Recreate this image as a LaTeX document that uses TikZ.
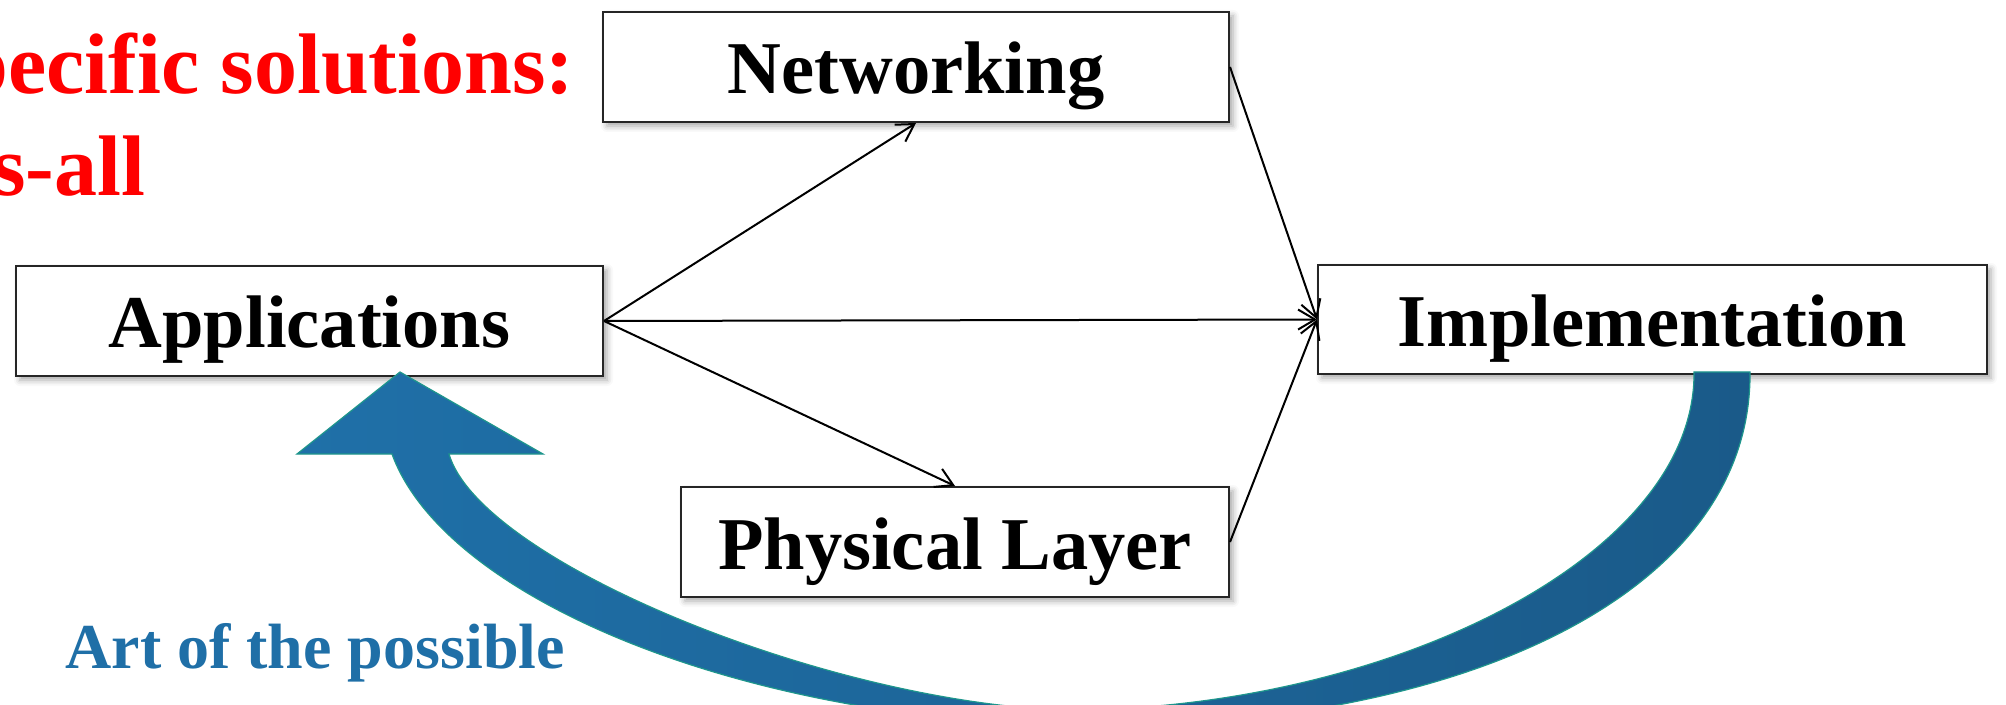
\documentclass[tikz,border=0pt]{standalone}
\usepackage{fontspec}
\setmainfont{Liberation Serif}
\usetikzlibrary{arrows.meta,shadows.blur}
\definecolor{redtxt}{RGB}{255,0,0}
\definecolor{bluetxt}{RGB}{31,111,167}
\definecolor{arrL}{RGB}{31,112,168}
\definecolor{arrR}{RGB}{26,90,137}
\definecolor{arrEdge}{RGB}{30,150,140}
\begin{document}
\begin{tikzpicture}[x=0.5pt,y=-0.5pt,
  box/.style={draw=black!85, line width=1pt, fill=white, inner sep=0pt,
    text height=41pt, text depth=14pt,
    font=\fontsize{37.25}{40}\selectfont\bfseries,
    blur shadow={shadow xshift=2pt, shadow yshift=-2pt, shadow blur radius=3pt, shadow opacity=35}},
  link/.style={line width=1pt, -{Straight Barb[length=8.5pt,width=10pt,line width=1pt]}},
  lbl/.style={anchor=base west, inner sep=0pt},
]
\useasboundingbox (0,0) rectangle (2006,705);
\clip (0,0) rectangle (2006,705);

\node[box, minimum width=313pt] (net) at (916,67) {Networking};
\node[box, minimum width=293.5pt] (app) at (309.5,321) {Applications};
\node[box, minimum width=334.5pt, text depth=13.5pt] (impl) at (1652.5,319.5) {Implementation};
\node[box, minimum width=274pt] (phy) at (955,542) {Physical Layer};

\draw[link] (app.east) -- (net.south);
\draw[link] (app.east) -- (impl.west);
\draw[link] (app.east) -- (phy.north);
\draw[link] (net.east) -- (impl.west);
\draw[link] (phy.east) -- (impl.west);

\shade[left color=arrL, right color=arrR, draw=arrEdge, line width=0.6pt]
 (392,454) .. controls (445,600) and (750,726) .. (1100,726)
 .. controls (1450,726) and (1752,600) .. (1750,372)
 -- (1694,372)
 .. controls (1696,560) and (1380,712) .. (1060,710)
 .. controls (820,700) and (480,560) .. (449,454)
 -- (543,454) -- (400,372) -- (297,454) -- cycle;

\node[lbl, text=redtxt, font=\fontsize{43}{46}\selectfont\bfseries] (t1) at (-40,94) {pecific solutions:};
\node[lbl, text=redtxt, font=\fontsize{43}{46}\selectfont\bfseries] (t2) at (-8,196) {s-all};
\node[lbl, text=bluetxt, font=\fontsize{32}{36}\selectfont\bfseries] (t3) at (65,668) {Art of the possible};
\end{tikzpicture}
\end{document}
